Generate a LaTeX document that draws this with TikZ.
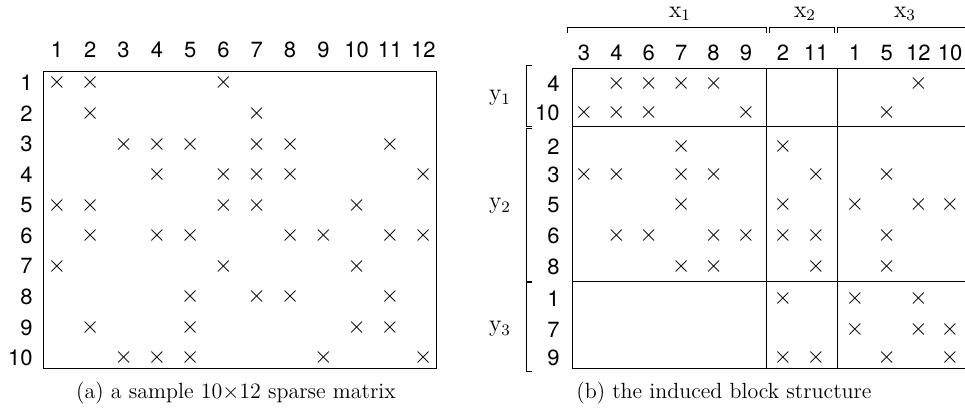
\documentclass[tikz,border=0pt]{standalone}
\usepackage{fontspec}
\newfontfamily\heros{TeX Gyre Heros}
\begin{document}
\begin{tikzpicture}[x=0.5pt,y=-0.5pt,
  num/.style={font=\heros\fontsize{11}{13}\selectfont,inner sep=0pt},
  entry/.style={font=\fontsize{12}{14}\selectfont,inner sep=0pt},
  grp/.style={font=\fontsize{12}{14}\selectfont,inner sep=0pt},
  capt/.style={font=\fontsize{11}{13}\selectfont},
  frame/.style={line width=0.5pt}]
\useasboundingbox (0,0) rectangle (965,411);
% (a) sample matrix
\foreach \ci in {1,...,12}{\node[num] (ac\ci) at ({57+(\ci-1)*33.3},50) {\ci};}
\foreach \ri in {1,...,10}{\node[num,anchor=east] (ar\ri) at (33,{83+(\ri-1)*30.55}) {\ri};}
\draw[frame] (43,72) rectangle (436,369);
\foreach \ri/\cs in {1/{1,2,6},2/{2,7},3/{3,4,5,7,8,11},4/{4,6,7,8,12},5/{1,2,6,7,10},
  6/{2,4,5,8,9,11,12},7/{1,6,10},8/{5,7,8,11},9/{2,5,10,11},10/{3,4,5,9,12}}{
  \foreach \ci in \cs{\node[entry] (a\ri-\ci) at (ac\ci |- ar\ri) {$\times$};}}
\node[capt] (capa) at (236,393) {(a) a sample 10$\times$12 sparse matrix};
% (b) block structure
\foreach \ci/\x in {3/584,4/616.4,6/648.8,7/681.2,8/713.6,9/746,2/783,11/816,1/855,5/886.7,12/918.4,10/950}{
  \node[num] (bc\ci) at (\x,53) {\ci};}
\foreach \ri/\y in {4/84,10/113,2/147,3/175,5/205,6/236,8/267,1/299,7/330,9/358}{
  \node[num,anchor=east] (br\ri) at (560,\y) {\ri};}
\draw[frame] (980,69) -| (572,369) -- (980,369);
\draw[frame] (572,127) -- (980,127) (572,282) -- (980,282);
\draw[frame] (766,69) -- (766,369) (837,69) -- (837,369);
\foreach \ri/\cs in {4/{4,6,7,8,12},10/{3,4,6,9,5},2/{7,2},3/{3,4,7,8,11,5},5/{7,2,1,12,10},
  6/{4,6,8,9,2,11,5},8/{7,8,11,5},1/{2,1,12},7/{1,12,10},9/{2,11,5,10}}{
  \foreach \ci in \cs{\node[entry] (b\ri-\ci) at (bc\ci |- br\ri) {$\times$};}}
% brackets
\foreach \a/\b in {567/766,769/834,837/985}{\draw[frame] (\a,33) |- (\b,28) -- (\b,33);}
\foreach \a/\b in {66/127,129/282,283/372}{\draw[frame] (532,\a) -| (526,\b) -- (532,\b);}
\node[grp] (x1) at (680,14) {$\mathrm{x}_1$};
\node[grp] (x2) at (805,14) {$\mathrm{x}_2$};
\node[grp] (x3) at (905,14) {$\mathrm{x}_3$};
\node[grp] (y1) at (500,98) {$\mathrm{y}_1$};
\node[grp] (y2) at (500,206) {$\mathrm{y}_2$};
\node[grp] (y3) at (500,329) {$\mathrm{y}_3$};
\node[capt] (capb) at (724,393) {(b) the induced block structure};
\end{tikzpicture}
\end{document}
